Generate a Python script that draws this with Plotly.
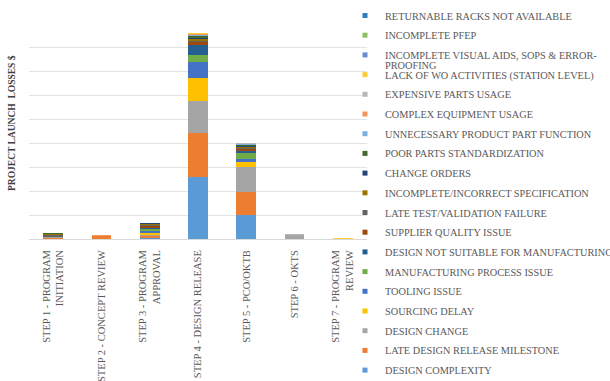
import plotly.graph_objects as go

# ---------------- data ----------------
steps = ["STEP 1", "STEP 2", "STEP 3", "STEP 4", "STEP 5", "STEP 6", "STEP 7"]
step_labels = [
    "STEP 1 - PROGRAM<br>INITIATION",
    "STEP 2 - CONCEPT REVIEW",
    "STEP 3 - PROGRAM<br>APPROVAL",
    "STEP 4 - DESIGN RELEASE",
    "STEP 5 - PCO/OKTB",
    "STEP 6 - OKTS",
    "STEP 7 - PROGRAM<br>REVIEW",
]

# losses per cause (stack order bottom -> top), one value per step
design_complexity        = [0.02, 0.00, 0.03, 2.57, 0.99, 0.00, 0.00]
late_design_release      = [0.02, 0.12, 0.10, 1.86, 0.97, 0.00, 0.00]
design_change            = [0.06, 0.02, 0.03, 1.33, 1.03, 0.17, 0.00]
sourcing_delay           = [0.00, 0.00, 0.09, 0.96, 0.23, 0.00, 0.00]
tooling_issue            = [0.00, 0.00, 0.08, 0.64, 0.12, 0.00, 0.00]
mfg_process_issue        = [0.00, 0.00, 0.07, 0.30, 0.25, 0.00, 0.00]
design_not_suitable      = [0.00, 0.00, 0.07, 0.42, 0.08, 0.00, 0.00]
supplier_quality         = [0.00, 0.00, 0.08, 0.12, 0.08, 0.00, 0.00]
late_test_validation     = [0.05, 0.00, 0.03, 0.07, 0.05, 0.00, 0.00]
incomplete_specification = [0.04, 0.00, 0.05, 0.07, 0.05, 0.00, 0.00]
change_orders            = [0.00, 0.00, 0.02, 0.05, 0.04, 0.00, 0.00]
poor_parts_std           = [0.04, 0.00, 0.02, 0.05, 0.04, 0.00, 0.00]
unnecessary_function     = [0.00, 0.00, 0.00, 0.04, 0.02, 0.00, 0.00]
complex_equipment        = [0.00, 0.04, 0.00, 0.05, 0.02, 0.00, 0.00]
expensive_parts          = [0.02, 0.00, 0.00, 0.03, 0.01, 0.02, 0.02]
lack_of_wo               = [0.00, 0.00, 0.00, 0.02, 0.00, 0.00, 0.03]
incomplete_visual_aids   = [0.00, 0.00, 0.00, 0.01, 0.00, 0.00, 0.00]
incomplete_pfep          = [0.00, 0.00, 0.00, 0.005, 0.00, 0.00, 0.01]
returnable_racks         = [0.00, 0.00, 0.00, 0.005, 0.00, 0.00, 0.00]

series = [
    ("DESIGN COMPLEXITY", design_complexity, "#5B9BD5"),
    ("LATE DESIGN RELEASE MILESTONE", late_design_release, "#ED7D31"),
    ("DESIGN CHANGE", design_change, "#A5A5A5"),
    ("SOURCING DELAY", sourcing_delay, "#FFC000"),
    ("TOOLING ISSUE", tooling_issue, "#4472C4"),
    ("MANUFACTURING PROCESS ISSUE", mfg_process_issue, "#70AD47"),
    ("DESIGN NOT SUITABLE FOR MANUFACTURING", design_not_suitable, "#255E91"),
    ("SUPPLIER QUALITY ISSUE", supplier_quality, "#9E480E"),
    ("LATE TEST/VALIDATION FAILURE", late_test_validation, "#636363"),
    ("INCOMPLETE/INCORRECT SPECIFICATION", incomplete_specification, "#997300"),
    ("CHANGE ORDERS", change_orders, "#264478"),
    ("POOR PARTS STANDARDIZATION", poor_parts_std, "#43682B"),
    ("UNNECESSARY PRODUCT PART FUNCTION", unnecessary_function, "#7CAFDD"),
    ("COMPLEX EQUIPMENT USAGE", complex_equipment, "#F1975A"),
    ("EXPENSIVE PARTS USAGE", expensive_parts, "#B7B7B7"),
    ("LACK OF WO ACTIVITIES (STATION LEVEL)", lack_of_wo, "#FFCD33"),
    ("INCOMPLETE VISUAL AIDS, SOPS & ERROR-", incomplete_visual_aids, "#698ED0"),
    ("INCOMPLETE PFEP", incomplete_pfep, "#8CC168"),
    ("RETURNABLE RACKS NOT AVAILABLE", returnable_racks, "#327DC2"),
]

FONT = "Liberation Serif"
TXT = "#595959"

fig = go.Figure()
# stacked bars, bottom -> top
for name, vals, col in series:
    fig.add_trace(go.Bar(
        x=steps, y=vals, name=name, marker=dict(color=col, line=dict(width=0)),
        showlegend=False,
    ))
# legend entries (small square markers), listed top -> bottom as in the reference
for i, (name, vals, col) in enumerate(reversed(series)):
    fig.add_trace(go.Scatter(
        x=[None], y=[None], mode="markers", name=name, legendgroup=f"L{i:02d}",
        marker=dict(symbol="square", size=5, color=col), showlegend=True,
    ))

W, H = 610, 381
L, R, T, B = 29, 243, 23, 142
pw, ph = W - L - R, H - T - B

fig.update_layout(
    width=W, height=H,
    margin=dict(l=L, r=R, t=T, b=B, autoexpand=False),
    barmode="stack", bargap=0.59,
    paper_bgcolor="white", plot_bgcolor="white",
    font=dict(family=FONT, color=TXT, size=10),
    xaxis=dict(
        tickmode="array", tickvals=steps, ticktext=step_labels,
        tickangle=-90, tickfont=dict(family=FONT, size=10.5, color=TXT),
        showgrid=False, showline=True, linecolor="#D9D9D9", linewidth=1,
        ticks="", ticklabelstandoff=6,
    ),
    yaxis=dict(
        range=[0, 9], dtick=1, showticklabels=False,
        showgrid=True, gridcolor="#E3E3E3", gridwidth=1,
        zeroline=False, showline=False, ticks="",
    ),
    legend=dict(
        x=(345 - L) / pw, xanchor="left",
        y=(H - B - 1) / ph, yanchor="top",
        traceorder="grouped", tracegroupgap=0.7,
        font=dict(family=FONT, size=10.3, color=TXT),
        bgcolor="rgba(0,0,0,0)", borderwidth=0,
        maxheight=400,
        itemclick=False, itemdoubleclick=False,
    ),
    showlegend=True,
)

fig.add_annotation(
    text="<b>PROJECT LAUNCH  LOSSES $</b>", textangle=-90,
    xref="paper", yref="paper",
    x=(12 - L) / pw, y=(H - B - 123) / ph,
    xanchor="center", yanchor="middle", showarrow=False,
    font=dict(family=FONT, size=9.5, color="#404040"),
)

fig.add_annotation(
    text="PROOFING", xref="paper", yref="paper",
    x=(383 - L) / pw, y=(H - B - 65) / ph,
    xanchor="left", yanchor="middle", showarrow=False,
    font=dict(family=FONT, size=10.3, color=TXT),
)

fig.write_html("out.html", config={"staticPlot": True})
